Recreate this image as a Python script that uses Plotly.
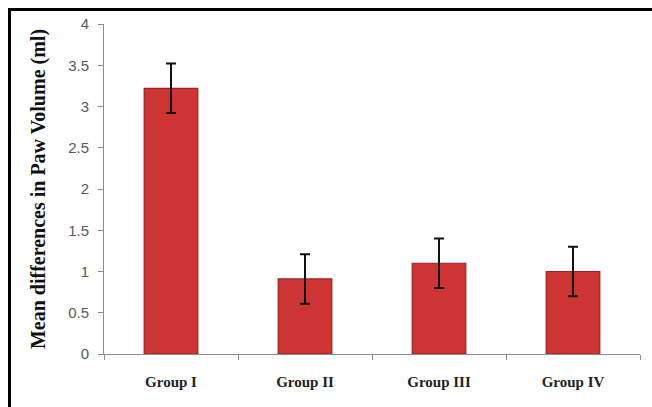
import plotly.graph_objects as go

# Paw volume data per treatment group
groups = ["Group I", "Group II", "Group III", "Group IV"]
mean_diff = [3.22, 0.91, 1.10, 1.00]
sem = [0.30, 0.30, 0.30, 0.30]
y_ticks = [0, 0.5, 1, 1.5, 2, 2.5, 3, 3.5, 4]
y_tick_text = ["0", "0.5", "1", "1.5", "2", "2.5", "3", "3.5", "4"]

W, H = 652, 407
ML, MR, MT, MB = 104, 12, 24, 53
pw = W - ML - MR
ph = H - MT - MB


def px_x(p):
    return (p - ML) / pw


def px_y(p):
    return (H - MB - p) / ph


fig = go.Figure()
fig.add_trace(go.Bar(
    x=groups,
    y=mean_diff,
    width=0.4,
    marker=dict(color="#CD3535", line=dict(color="#9A2222", width=1.2)),
    error_y=dict(type="data", array=sem, visible=True, color="#111111",
                 thickness=2, width=5),
))

line_grey = "#8C8C8C"
fig.update_layout(
    width=W, height=H,
    margin=dict(l=ML, r=MR, t=MT, b=MB),
    paper_bgcolor="white", plot_bgcolor="white",
    showlegend=False,
    xaxis=dict(
        showline=True, linecolor=line_grey, linewidth=1,
        ticks="outside", tickson="boundaries", ticklen=5, tickcolor=line_grey,
        ticklabelstandoff=14,
        tickfont=dict(family="Liberation Serif", size=15, color="#222222",
                      weight="bold"),
        showgrid=False,
    ),
    yaxis=dict(
        range=[0, 4], tickvals=y_ticks, ticktext=y_tick_text,
        showline=True, linecolor=line_grey, linewidth=1,
        ticks="outside", ticklen=5, tickcolor=line_grey,
        ticklabelstandoff=6,
        tickfont=dict(family="Liberation Sans", size=15, color="#595959"),
        showgrid=False, zeroline=False,
        title=dict(text="<b>Mean differences in Paw Volume (ml)</b>",
                   font=dict(family="Liberation Serif", size=20, color="#111111"),
                   standoff=17),
    ),
    shapes=[
        # outer frame: top and left edges
        dict(type="line", xref="paper", yref="paper",
             x0=px_x(8), x1=px_x(660), y0=px_y(9.5), y1=px_y(9.5),
             line=dict(color="black", width=3)),
        dict(type="line", xref="paper", yref="paper",
             x0=px_x(9.5), x1=px_x(9.5), y0=px_y(8), y1=px_y(420),
             line=dict(color="black", width=3)),
    ],
)

fig.write_html("out.html")
